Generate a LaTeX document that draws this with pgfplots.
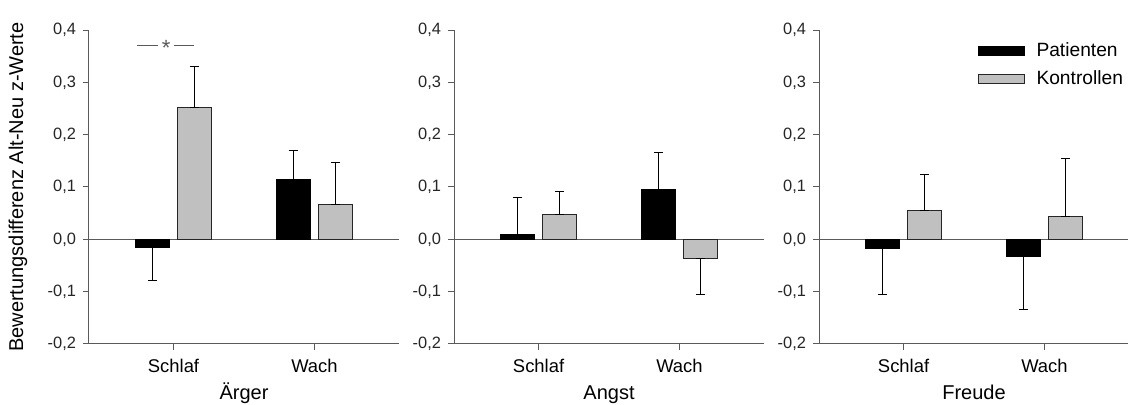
\documentclass[border=0pt]{standalone}
\usepackage{fontspec}
\setmainfont{Liberation Sans}
\usepackage{pgfplots}
\pgfplotsset{compat=1.18}
\definecolor{kgray}{HTML}{C0C0C0}
\definecolor{axgray}{HTML}{5A5A5A}
\pgfplotsset{
  panel/.style={
    scale only axis, width=155pt, height=157pt,
    xmin=0.4, xmax=2.6, ymin=-0.2, ymax=0.4,
    axis x line*=bottom, axis y line*=left,
    axis line style={draw=axgray, line width=0.5pt},
    tick style={draw=axgray, line width=0.5pt},
    tick align=outside, major tick length=3pt,
    xtick={1,2}, xticklabels={Schlaf,Wach},
    ytick={-0.2,-0.1,0,0.1,0.2,0.3,0.4},
    /pgf/number format/.cd, assume math mode=true, use comma, fixed, fixed zerofill, precision=1, /pgfplots/.cd,
    yticklabel style={font=\fontsize{8.2}{9}\selectfont, text=black!85},
    xticklabel style={font=\fontsize{9.2}{11}\selectfont, yshift=-1pt},
    xlabel style={at={(axis description cs:0.5,-0.177)}, anchor=base, font=\fontsize{10}{12}\selectfont},
    ylabel style={at={(axis description cs:-0.229,0.5)}, anchor=center, font=\fontsize{10}{12}\selectfont},
    ybar, bar width=0.243,
    error bars/y dir=both, error bars/y explicit,
    error bars/error bar style={black, line width=0.5pt},
    error bars/error mark options={black, line width=0.5pt, mark size=2.25pt, rotate=90},
    legend image code/.code={\draw[##1, line width=0.5pt] (0pt,-2.2pt) rectangle (23pt,2.2pt);},
  },
  pat/.style={fill=black, draw=black, line width=0.5pt, bar shift=-0.15},
  kon/.style={fill=kgray, draw=black!85, line width=0.5pt, bar shift=0.15},
}
\begin{document}
\begin{tikzpicture}
\useasboundingbox (-44.5pt,-30.5pt) rectangle (519.5pt,172pt);
% Panel 1: Aerger
\begin{axis}[panel, at={(0pt,0pt)}, xlabel={Ärger}, ylabel={Bewertungsdifferenz Alt-Neu z-Werte}]
\addplot[forget plot, sharp plot, draw=axgray, line width=0.5pt, mark=none] coordinates {(0.4,0) (2.6,0)};
\addplot[pat] coordinates {(1,-0.015) += (0,0) -= (0,0.064) (2,0.114) += (0,0.055) -= (0,0)};
\addplot[kon] coordinates {(1,0.251) += (0,0.080) -= (0,0) (2,0.066) += (0,0.080) -= (0,0)};
\draw[axgray, line width=0.5pt] (axis cs:0.743,0.371) -- (axis cs:0.893,0.371);
\draw[axgray, line width=0.5pt] (axis cs:1.0,0.371) -- (axis cs:1.143,0.371);
\node[text=axgray, font=\fontsize{11}{12}\selectfont, inner sep=0pt, yshift=-1.5pt] at (axis cs:0.947,0.371) {*};
\end{axis}
% Panel 2: Angst
\begin{axis}[panel, at={(182.5pt,0pt)}, xlabel={Angst}]
\addplot[forget plot, sharp plot, draw=axgray, line width=0.5pt, mark=none] coordinates {(0.4,0) (2.6,0)};
\addplot[pat] coordinates {(1,0.009) += (0,0.071) -= (0,0) (2,0.095) += (0,0.070) -= (0,0)};
\addplot[kon] coordinates {(1,0.048) += (0,0.043) -= (0,0) (2,-0.037) += (0,0) -= (0,0.069)};
\end{axis}
% Panel 3: Freude
\begin{axis}[panel, at={(365pt,0pt)}, xlabel={Freude},
  legend style={draw=none, fill=none, at={(rel axis cs:0.51,0.975)}, anchor=north west,
    font=\fontsize{9.6}{11}\selectfont, row sep=1.5pt, inner sep=0pt},
  legend cell align=left]
\addplot[forget plot, sharp plot, draw=axgray, line width=0.5pt, mark=none] coordinates {(0.4,0) (2.6,0)};
\addplot[pat] coordinates {(1,-0.018) += (0,0) -= (0,0.088) (2,-0.032) += (0,0) -= (0,0.102)};
\addplot[kon] coordinates {(1,0.056) += (0,0.068) -= (0,0) (2,0.044) += (0,0.110) -= (0,0)};
\legend{\hspace{4pt}Patienten, \hspace{4pt}Kontrollen}
\end{axis}
\end{tikzpicture}
\end{document}
